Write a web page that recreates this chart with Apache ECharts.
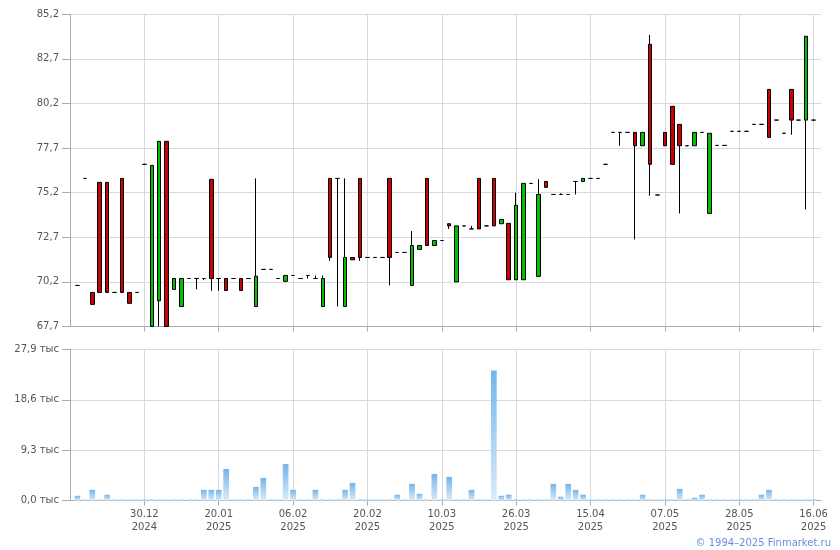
<!DOCTYPE html>
<html><head><meta charset="utf-8">
<script src="https://cdn.jsdelivr.net/npm/echarts@6/dist/echarts.min.js"></script>
<style>html,body{margin:0;padding:0;background:#fff}#c{width:840px;height:550px}</style>
</head><body><div id="c"></div>
<script>
// Tick labels on the date axis (every 10th trading slot)
const dateLabels = ['30.12\n2024','20.01\n2025','06.02\n2025','20.02\n2025','10.03\n2025','26.03\n2025','15.04\n2025','07.05\n2025','28.05\n2025','16.06\n2025'];
const priceTicks = {min: 67.7, max: 85.2, step: 2.5};
const volumeTicks = {min: 0, max: 27.9, step: 9.3};

const opens = [70.0,76.0,69.61,75.78,75.78,69.61,76.0,69.61,69.61,76.79,
 67.7,69.14,78.08,69.78,68.82,70.39,70.39,70.39,75.95,70.39,
 70.39,70.39,70.39,70.39,68.82,70.9,70.9,70.39,70.23,70.56,
 70.39,70.56,70.39,68.82,76.0,76.0,68.82,71.57,76.0,71.57,
 71.57,71.57,76.0,71.85,71.85,70.0,72.02,76.0,72.24,72.52,
 73.46,70.2,73.34,73.17,76.0,73.34,76.0,73.46,73.48,70.32,
 70.32,75.72,70.51,75.83,75.1,75.1,75.1,75.83,75.83,76.0,
 76.0,76.79,78.58,78.58,78.58,78.58,77.83,83.52,75.07,78.58,
 80.04,79.03,77.83,77.83,78.58,74.04,77.85,77.85,78.64,78.64,
 78.64,79.03,79.03,80.99,79.27,78.53,80.99,79.27,79.27,79.27];
const closes = [70.0,76.0,68.94,69.61,69.61,69.61,69.61,69.0,69.61,76.79,
 76.73,78.08,67.7,70.39,70.39,70.39,70.39,70.39,70.39,70.39,
 69.72,70.39,69.72,70.39,70.52,70.9,70.9,70.39,70.56,70.56,
 70.39,70.56,70.39,70.39,71.57,76.0,71.57,71.44,71.57,71.57,
 71.57,71.57,71.57,71.85,71.85,72.24,72.24,72.24,72.52,72.52,
 73.34,73.34,73.34,73.17,73.17,73.34,73.34,73.7,70.32,74.49,
 75.72,75.72,75.1,75.5,75.1,75.1,75.1,75.83,76.0,76.0,
 76.0,76.79,78.58,78.58,78.58,77.83,78.58,76.79,75.07,77.83,
 76.79,77.83,77.83,78.58,78.58,78.53,77.85,77.85,78.64,78.64,
 78.64,79.03,79.03,78.3,79.27,78.53,79.27,79.27,83.97,79.27];
const lows = [70.0,76.0,68.94,69.61,69.61,69.61,69.61,69.0,69.61,76.79,
 67.7,67.7,67.7,69.78,68.82,70.39,69.78,70.3,69.7,69.7,
 69.72,70.39,69.72,70.39,68.82,70.9,70.9,70.39,70.23,70.56,
 70.39,70.39,70.39,68.82,71.38,68.82,68.82,71.44,71.38,71.57,
 71.57,71.57,70.0,71.85,71.85,70.0,72.02,72.24,72.24,72.52,
 73.17,70.2,73.34,73.17,73.17,73.34,73.34,73.46,70.32,70.32,
 70.32,75.72,70.51,75.5,75.1,75.1,75.1,75.1,75.83,76.0,
 76.0,76.79,78.58,77.83,78.58,72.58,77.83,75.03,75.07,77.83,
 76.79,74.04,77.83,77.83,78.58,74.04,77.85,77.85,78.64,78.64,
 78.64,79.03,79.03,78.3,79.27,78.53,78.45,79.27,74.26,79.27];
const highs = [70.0,76.0,69.61,75.78,75.78,69.61,76.0,69.61,69.61,76.79,
 76.73,78.08,78.08,70.39,70.39,70.39,70.39,70.39,75.95,70.39,
 70.39,70.39,70.39,70.39,76.0,70.9,70.9,70.39,70.56,70.56,
 70.39,70.56,70.56,70.56,76.0,76.0,76.0,71.57,76.0,71.57,
 71.57,71.57,76.0,71.85,71.85,73.05,72.24,76.0,72.52,72.52,
 73.46,73.34,73.34,73.34,76.0,73.34,76.0,73.7,73.48,75.2,
 75.72,75.72,75.95,75.83,75.1,75.17,75.1,75.83,76.0,76.0,
 76.0,76.79,78.58,78.58,78.58,78.58,78.58,84.04,75.07,78.58,
 80.04,79.03,77.83,78.58,78.58,78.53,77.85,77.85,78.64,78.64,
 78.64,79.03,79.03,80.99,79.27,78.53,80.99,79.27,83.97,79.27];
// volume, thousands
const volumes = [0.91,0.2,2.0,0.2,1.1,0.2,0.2,0.2,0.2,0.2,
 0.2,0.2,0.2,0.2,0.2,0.2,0.2,2.0,2.0,2.0,
 5.84,0.2,0.2,0.2,2.55,4.2,0.2,0.2,6.75,2.0,
 0.2,0.2,2.0,0.2,0.2,0.2,2.0,3.28,0.2,0.2,
 0.2,0.2,0.2,1.1,0.2,3.1,1.28,0.2,4.93,0.2,
 4.38,0.2,0.2,2.0,0.2,0.2,24.0,0.91,1.1,0.2,
 0.2,0.2,0.2,0.2,3.1,0.73,3.1,2.0,1.1,0.2,
 0.2,0.2,0.2,0.2,0.2,0.2,1.1,0.2,0.2,0.2,
 0.2,2.19,0.2,0.55,1.1,0.2,0.2,0.2,0.2,0.2,
 0.2,0.2,1.1,2.0,0.2,0.2,0.2,0.2,0.2,0.2];

// category slots: one empty slot on each side, labels every 10th slot
const nSlots = opens.length + 2;
const categories = [];
for (let k = 0; k < nSlots; k++) {
  categories.push(k > 0 && k % 10 === 0 && dateLabels[k/10-1] ? dateLabels[k/10-1] : ('#' + k));
}
const isLabelSlot = (idx) => idx > 0 && idx % 10 === 0 && !!dateLabels[idx/10-1];
const candleData = ['-'].concat(opens.map((o, i) => [o, closes[i], lows[i], highs[i]])).concat(['-']);
const volumeData = ['-'].concat(volumes).concat(['-']);

const FONT = 'DejaVu Sans';
const gridColor = '#D6DADE';
const axisColor = '#A9ADB3';
const labelColor = '#555';
const fmt = (v) => (Math.round(v * 10) / 10).toFixed(1).replace('.', ',');

const xCommon = {
  type: 'category', data: categories, boundaryGap: false,
  axisLine: {onZero: false, lineStyle: {color: axisColor}},
  axisTick: {show: true, interval: isLabelSlot, length: 5, lineStyle: {color: axisColor}},
  splitLine: {show: true, interval: isLabelSlot, lineStyle: {color: gridColor}},
};
const chart = echarts.init(document.getElementById('c'));
chart.setOption({
  animation: false,
  backgroundColor: '#fff',
  grid: [
    {left: 70, top: 14.3, width: 751, height: 312.2},
    {left: 70, top: 349.3, width: 751, height: 151.4}
  ],
  xAxis: [
    Object.assign({}, xCommon, {gridIndex: 0, axisLabel: {show: false, interval: isLabelSlot}}),
    Object.assign({}, xCommon, {gridIndex: 1, axisLabel: {show: true, interval: isLabelSlot, color: labelColor,
      fontFamily: FONT, fontSize: 10, lineHeight: 13, margin: 7}})
  ],
  yAxis: [
    {gridIndex: 0, type: 'value', min: priceTicks.min, max: priceTicks.max, interval: priceTicks.step,
     axisLine: {show: true, lineStyle: {color: axisColor}},
     axisTick: {show: true, length: 8, lineStyle: {color: axisColor}},
     splitLine: {show: true, lineStyle: {color: gridColor}},
     axisLabel: {color: labelColor, fontFamily: FONT, fontSize: 10, margin: 11, formatter: fmt}},
    {gridIndex: 1, type: 'value', min: volumeTicks.min, max: volumeTicks.max, interval: volumeTicks.step,
     axisLine: {show: true, lineStyle: {color: axisColor}},
     axisTick: {show: true, length: 8, lineStyle: {color: axisColor}},
     splitLine: {show: true, lineStyle: {color: gridColor}},
     axisLabel: {color: labelColor, fontFamily: FONT, fontSize: 10, margin: 11, formatter: (v) => fmt(v) + ' тыс'}}
  ],
  series: [
    {type: 'candlestick', xAxisIndex: 0, yAxisIndex: 0, data: candleData, barWidth: 4, clip: true,
     itemStyle: {color: '#00C000', color0: '#CC0000', borderColor: '#000', borderColor0: '#000',
       borderColorDoji: '#000', borderWidth: 1}},
    {type: 'bar', xAxisIndex: 1, yAxisIndex: 1, data: volumeData, barWidth: 5.7,
     itemStyle: {color: new echarts.graphic.LinearGradient(0, 0, 0, 1, [
       {offset: 0, color: '#74B5EC'}, {offset: 1, color: '#DAECFA'}])}}
  ],
  graphic: [
    {type: 'text', right: 9, top: 538, style: {text: '© 1994–2025 Finmarket.ru', fill: '#6F8BE0',
      font: '10px "DejaVu Sans"'}}
  ]
});
</script></body></html>
